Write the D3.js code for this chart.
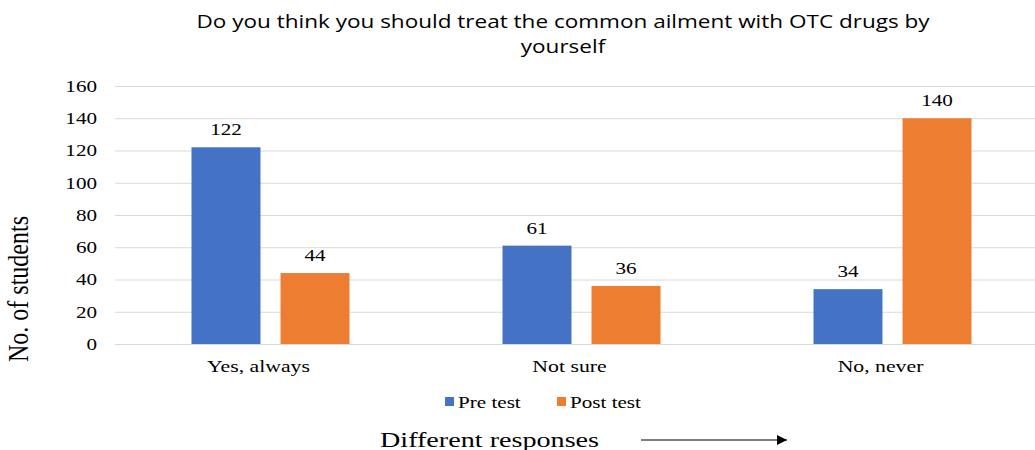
<!DOCTYPE html>
<html>
<head>
<meta charset="utf-8">
<script src="https://cdn.jsdelivr.net/npm/d3@7"></script>
<style>
  html, body { margin: 0; padding: 0; background: #fff; }
  svg { display: block; }
</style>
</head>
<body>
<svg id="chart" width="1035" height="450"></svg>
<script>
// Responses to the self-medication question, before and after the intervention
const categories = ["Yes, always", "Not sure", "No, never"];
const seriesNames = ["Pre test", "Post test"];
const preTest = [122, 61, 34];
const postTest = [44, 36, 140];
const yTicks = [0, 20, 40, 60, 80, 100, 120, 140, 160];
const colors = ["#4472C4", "#ED7D31"];

const svg = d3.select("#chart");
const W = 1035, H = 450;
const plot = { left: 115, right: 1048, top: 86, bottom: 344 };
const SX = 1.28; // horizontal widening applied to every label

const x0 = d3.scaleBand().domain(categories).range([plot.left, plot.right]).padding(0);
const groupW = 158;
const x1 = d3.scaleBand().domain(seriesNames)
  .range([(x0.bandwidth() - groupW) / 2, (x0.bandwidth() + groupW) / 2])
  .paddingInner(0.225).paddingOuter(0);
const y = d3.scaleLinear().domain([0, 160]).range([plot.bottom, plot.top]);

const serif = "'Liberation Serif', 'Times New Roman', serif";

// Move a text's anchor point into a transform so it can be widened in place
function widen(sel, sx) {
  sel.each(function () {
    const t = d3.select(this);
    const x = +t.attr("x") || 0;
    const yy = +t.attr("y") || 0;
    t.attr("x", 0).attr("y", 0)
     .attr("transform", `translate(${x},${yy}) scale(${sx},1)`);
  });
}

// Title
const titleLines = ["Do you think you should treat the common ailment with OTC drugs by", "yourself"];
svg.append("g").selectAll("text")
  .data(titleLines).join("text")
  .attr("x", 563).attr("y", (d, i) => 28 + i * 25)
  .attr("text-anchor", "middle")
  .attr("font-family", "'Open Sans', sans-serif")
  .attr("font-size", 17.6)
  .attr("fill", "#000")
  .text(d => d)
  .call(widen, SX);

// Gridlines and tick labels
const yAxis = d3.axisLeft(y).tickValues(yTicks).tickSize(-(W - plot.left)).tickPadding(18);
const gy = svg.append("g").attr("transform", `translate(${plot.left},0)`).call(yAxis);
gy.select(".domain").remove();
gy.selectAll(".tick line").attr("stroke", "#d9d9d9").attr("stroke-width", 1);
gy.selectAll(".tick text")
  .attr("font-family", serif).attr("font-size", 16.5).attr("fill", "#000")
  .call(widen, SX);

// Category labels
const xAxis = d3.axisBottom(x0).tickSize(0).tickPadding(0);
const gx = svg.append("g").attr("transform", `translate(0,${plot.bottom})`).call(xAxis);
gx.select(".domain").remove();
gx.selectAll(".tick text")
  .attr("font-family", serif).attr("font-size", 17).attr("fill", "#000")
  .attr("x", -12).attr("y", 28).attr("dy", null)
  .call(widen, SX);

// Bars
const rows = categories.map((c, i) => ({ category: c, values: [preTest[i], postTest[i]] }));
const groups = svg.append("g").selectAll("g")
  .data(rows).join("g")
  .attr("transform", d => `translate(${x0(d.category)},0)`);

const cells = d => d.values.map((v, j) => ({ series: seriesNames[j], value: v, idx: j }));

groups.selectAll("rect")
  .data(cells).join("rect")
  .attr("x", d => x1(d.series))
  .attr("y", d => y(d.value))
  .attr("width", x1.bandwidth())
  .attr("height", d => y(0) - y(d.value))
  .attr("fill", d => colors[d.idx]);

groups.selectAll("text.value")
  .data(cells).join("text")
  .attr("class", "value")
  .attr("x", d => x1(d.series) + x1.bandwidth() / 2)
  .attr("y", d => y(d.value) - 12)
  .attr("text-anchor", "middle")
  .attr("font-family", serif).attr("font-size", 16.5).attr("fill", "#000")
  .text(d => d.value)
  .call(widen, SX);

// Legend
const legend = svg.append("g");
const legendX = [445, 557];
seriesNames.forEach((name, j) => {
  legend.append("rect")
    .attr("x", legendX[j]).attr("y", 397)
    .attr("width", 9).attr("height", 9)
    .attr("fill", colors[j]);
  legend.append("text")
    .attr("x", legendX[j] + 13).attr("y", 408)
    .attr("font-family", serif).attr("font-size", 16.5).attr("fill", "#000")
    .text(name)
    .call(widen, SX);
});

// Axis titles
svg.append("text")
  .attr("transform", "translate(28,289) rotate(-90) scale(1,1.2)")
  .attr("text-anchor", "middle")
  .attr("font-family", serif).attr("font-size", 24).attr("fill", "#000")
  .text("No. of students");

svg.append("text")
  .attr("x", 380).attr("y", 447)
  .attr("font-family", serif).attr("font-size", 22).attr("fill", "#000")
  .text("Different responses")
  .call(widen, SX);

// Arrow beside the x-axis title
svg.append("defs").append("marker")
  .attr("id", "arrowhead")
  .attr("viewBox", "0 0 10 10")
  .attr("refX", 10).attr("refY", 5)
  .attr("markerWidth", 14).attr("markerHeight", 10)
  .attr("markerUnits", "userSpaceOnUse")
  .attr("orient", "auto")
  .append("path").attr("d", "M0,0 L10,5 L0,10 Z").attr("fill", "#000");

svg.append("line")
  .attr("x1", 641).attr("x2", 787)
  .attr("y1", 440).attr("y2", 440)
  .attr("stroke", "#000").attr("stroke-width", 1.2)
  .attr("marker-end", "url(#arrowhead)");
</script>
</body>
</html>
